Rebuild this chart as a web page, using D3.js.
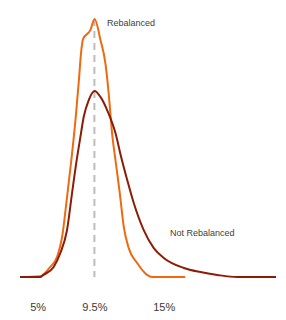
<!DOCTYPE html>
<html>
<head>
<meta charset="utf-8">
<script src="https://cdn.jsdelivr.net/npm/d3@7"></script>
<style>
  body { margin: 0; background: #fff; }
  svg { display: block; }
</style>
</head>
<body>
<div id="chart"></div>
<script>
// Return distribution, rebalanced vs not rebalanced portfolio
// x = annual return (%), y = relative density (rebalanced peak = 1)

const tickValues = [5, 9.5, 15];
const meanReturn = 9.5;

const rebalanced = [
  [3.6, 0], [5.2, 0.003], [6.0, 0.039], [6.54, 0.078], [6.94, 0.155],
  [7.33, 0.31], [7.67, 0.453], [8.02, 0.62], [8.29, 0.775], [8.44, 0.868],
  [8.6, 0.922], [9.18, 0.957], [9.52, 1.0], [9.98, 0.919], [10.37, 0.829],
  [10.63, 0.713], [10.9, 0.558], [11.17, 0.453], [11.51, 0.326], [11.83, 0.194],
  [12.22, 0.112], [12.89, 0.054], [13.68, 0.008], [14.08, 0], [16.7, 0]
];

const notRebalanced = [
  [3.6, 0], [5.2, 0], [5.45, 0.008], [6.27, 0.039], [6.8, 0.093],
  [7.33, 0.182], [7.73, 0.326], [8.1, 0.455], [8.39, 0.543], [8.65, 0.62],
  [9.05, 0.686], [9.52, 0.721], [9.98, 0.698], [10.51, 0.647], [11.17, 0.558],
  [11.62, 0.465], [12.1, 0.376], [12.62, 0.287], [13.41, 0.182], [14.21, 0.112],
  [15.0, 0.074], [16.59, 0.035], [17.91, 0.019], [19.24, 0.008], [20.83, 0],
  [23.9, 0]
];

const width = 286, height = 320;

const x = d3.scaleLinear().domain([3.6, 23.9]).range([20, 276]);
const y = d3.scaleLinear().domain([0, 1]).range([277, 19]);

const svg = d3.select("#chart")
  .append("svg")
  .attr("width", width)
  .attr("height", height);

const line = d3.line()
  .x(d => x(d[0]))
  .y(d => y(d[1]))
  .curve(d3.curveMonotoneX);

// mean marker
svg.append("line")
  .attr("x1", x(meanReturn)).attr("x2", x(meanReturn))
  .attr("y1", y(1)).attr("y2", y(0))
  .attr("stroke", "#bdbdbd")
  .attr("stroke-width", 2)
  .attr("stroke-dasharray", "7,5");

svg.append("path")
  .datum(rebalanced)
  .attr("d", line)
  .attr("fill", "none")
  .attr("stroke", "#ee6a10")
  .attr("stroke-width", 2);

svg.append("path")
  .datum(notRebalanced)
  .attr("d", line)
  .attr("fill", "none")
  .attr("stroke", "#8b1c06")
  .attr("stroke-width", 2);

// x axis, labels only
const axis = svg.append("g")
  .attr("transform", `translate(0,${y(0)})`)
  .call(d3.axisBottom(x)
    .tickValues(tickValues)
    .tickSize(0)
    .tickPadding(26)
    .tickFormat(d => d + "%"));

axis.select(".domain").remove();
axis.selectAll("text")
  .style("font-family", "Liberation Sans, Arial, sans-serif")
  .style("font-size", "11px")
  .style("fill", "#3a3a3a");

// series labels
svg.append("text")
  .attr("x", 107).attr("y", 26)
  .style("font-family", "Liberation Sans, Arial, sans-serif")
  .style("font-size", "9px")
  .style("fill", "#404040")
  .text("Rebalanced");

svg.append("text")
  .attr("x", 170).attr("y", 236)
  .style("font-family", "Liberation Sans, Arial, sans-serif")
  .style("font-size", "9px")
  .style("fill", "#404040")
  .text("Not Rebalanced");
</script>
</body>
</html>
